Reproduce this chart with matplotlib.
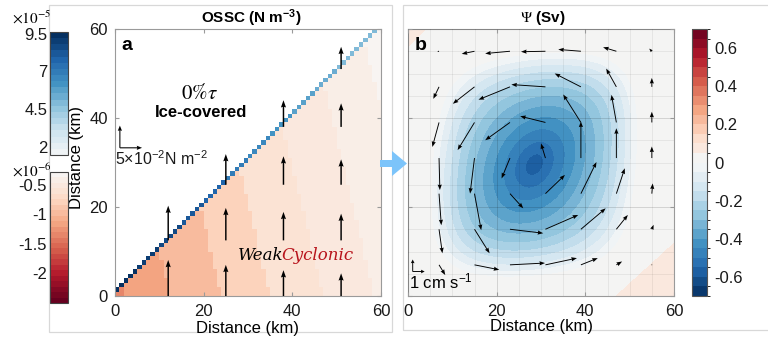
import numpy as np
import matplotlib
matplotlib.use('Agg')
import matplotlib.pyplot as plt
from matplotlib.colors import ListedColormap, Normalize, BoundaryNorm, to_rgba
from matplotlib.patches import Rectangle, FancyArrow
from matplotlib.ticker import MultipleLocator
import matplotlib.cm as cm

plt.rcParams['font.family'] = ['Liberation Sans', 'DejaVu Sans']
plt.rcParams['axes.unicode_minus'] = False
plt.rcParams['mathtext.fontset'] = 'custom'
plt.rcParams['mathtext.rm'] = 'Liberation Sans'
plt.rcParams['mathtext.it'] = 'Liberation Sans:italic'
plt.rcParams['mathtext.bf'] = 'Liberation Sans:bold'

# ---------------- panel a : OSSC on a 1 km grid ----------------
n_cells = 60
# red part (x1e-6): bands along x + slant*y
band_slant = 0.24
band_edges = [2, 12.5, 24, 35, 47, 58.5, 70]
band_values = [-1.35, -1.18, -0.93, -0.78, -0.64, -0.55, -0.42, -0.30]
# ice-edge cells (x1e-5), one value per 5 km along the edge
edge_values = [9.3, 8.8, 8.4, 8.0, 7.6, 7.1, 6.7, 6.3, 5.9, 5.5, 5.1, 4.8]

# surface stress arrows (length in 1e-2 N m-2), all northward
stress_x = [12, 25, 38, 51]
stress_y = [0, 12.5, 25, 38, 51]
stress_len = [[8.1, 7.8],
              [7.0, 7.3, 6.9],
              [5.8, 6.4, 6.4, 6.0],
              [5.1, 6.0, 5.7, 5.3, 5.0]]

# ---------------- panel b : streamfunction gyre ----------------
psi_amp = 0.62
psi_base = 0.02
psi_shape = 0.9
gyre_x, gyre_y = 28.5, 29.5
gyre_a, gyre_b = 34.0, 40.0     # inner (tilted ellipse) scales, km
gyre_rho = 0.28
gyre_c, gyre_d = 27.2, 28.65    # outer (rounded square) scales, km
gyre_sq = 5                     # squareness power of the outer rings
corner_br = 47.0    # x - 1.1 y beyond which psi > 0.05 (bottom-right)
corner_tl = 56.0    # y - x beyond which psi > 0.05 (top-left)
psi_levels = np.arange(-0.7, 0.7001, 0.05)

# surface velocity arrows (cm s-1), rows from north to south
vel_x = [7, 15, 23, 31, 39, 47, 55]
vel_y = [55, 47, 39, 31, 23, 15, 7]
vel_u = [[-0.15, -1.07, -2.07, -2.04, -1.89, -1.11, -0.22],
         [-0.48, -1.81, -2.63, -2.85, -2.19, -0.85, 0.00],
         [-0.56, -1.41, -2.07, -2.11, -1.48, -0.41, 0.00],
         [0.07, -0.37, -0.70, -0.37, 0.00, 0.00, 0.00],
         [0.19, 0.56, 1.11, 1.63, 1.30, 0.70, 0.07],
         [0.28, 1.26, 2.78, 2.74, 2.07, 0.96, 0.15],
         [0.52, 2.07, 2.93, 2.63, 1.41, 0.48, 0.00]]
vel_v = [[-0.04, -0.22, -0.19, -0.04, 0.15, 0.33, 0.22],
         [-1.00, -1.41, -1.07, 0.19, 1.11, 1.52, 0.74],
         [-2.04, -2.30, -1.48, 0.52, 2.33, 2.30, 0.89],
         [-2.67, -2.96, -1.70, 1.22, 3.04, 2.48, 0.96],
         [-2.63, -3.04, -1.22, 1.56, 2.63, 2.11, 0.85],
         [-2.00, -2.00, -0.33, 1.19, 1.74, 1.19, 0.37],
         [-0.85, -0.41, 0.15, 0.56, 0.56, 0.28, 0.00]]
km_per_cms = 2.7

# ---------------- figure ----------------
W, H = 768.0, 346.0
fig = plt.figure(figsize=(W / 100, H / 100), dpi=100)


def box(x0, y0, x1, y1):
    """pixel box (top-left origin) -> figure fraction rect"""
    return [x0 / W, 1 - y1 / H, (x1 - x0) / W, (y1 - y0) / H]


spine_col = '#9a9a9a'
txt_col = '#1a1a1a'

# panel frames
for (x0, y0, x1, y1) in [(49, 5, 392, 332), (403, 5, 780, 330)]:
    r = box(x0, y0, x1, y1)
    fig.add_artist(Rectangle((r[0], r[1]), r[2], r[3], fill=False,
                             ec='#d8d8d8', lw=0.9, transform=fig.transFigure, zorder=0))

ax_a = fig.add_axes(box(115, 29, 381, 296))
ax_b = fig.add_axes(box(408, 29, 674, 296))
cax_b = fig.add_axes(box(692, 29, 707, 296))
cax_up = fig.add_axes(box(50, 32, 68, 155))
cax_lo = fig.add_axes(box(50, 172, 68, 303))

# colormaps
red_cmap = ListedColormap(cm.RdBu(np.linspace(0.0, 0.49, 24)))
red_norm = Normalize(-2.5, -0.28)
blue_cmap = ListedColormap(cm.RdBu(np.linspace(0.52, 1.0, 20)))
blue_norm = Normalize(1.45, 9.6)

# ---- panel a ----
xe = np.arange(n_cells + 1)
xc = xe[:-1] + 0.5
X, Y = np.meshgrid(xc, xc)
I, J = np.meshgrid(np.arange(n_cells), np.arange(n_cells))
band_idx = np.searchsorted(band_edges, X + band_slant * Y)
red = np.array(band_values)[band_idx]
red = np.ma.masked_where(J > I, red)
edge = np.repeat(edge_values, 5)[I]
edge = np.ma.masked_where(J != I + 1, edge)
ax_a.pcolormesh(xe, xe, red, cmap=red_cmap, norm=red_norm, zorder=1)
ax_a.pcolormesh(xe, xe, edge, cmap=blue_cmap, norm=blue_norm, zorder=1)

sx, sy, sv = [], [], []
for xi, lens in zip(stress_x, stress_len):
    for yi, L in zip(stress_y, lens):
        sx.append(xi)
        sy.append(yi)
        sv.append(L)
ax_a.quiver(sx, sy, np.zeros(len(sv)), sv, angles='xy', scale_units='xy', scale=1,
            width=0.0055, headwidth=3.5, headlength=5, headaxislength=4.5,
            color='k', zorder=3, clip_on=False)
# key: 5e-2 N m-2
ax_a.quiver([1.1, 1.1], [33.3, 33.3], [5, 0], [0, 5], angles='xy', scale_units='xy',
            scale=1, width=0.004, headwidth=4, headlength=5, headaxislength=4.5,
            color='k', zorder=3)
ax_a.text(0.1, 30.8, r'5$\times$10$^{-2}$N m$^{-2}$', fontsize=11.5, va='center',
          ha='left', color=txt_col)
ax_a.text(1.5, 56.4, 'a', fontsize=14, fontweight='bold', va='center', ha='left')
ax_a.text(19.1, 45.7, r'$0\%\tau$', fontsize=15, math_fontfamily='stix',
          ha='center', va='center')
ax_a.text(19.3, 41.3, 'Ice-covered', fontsize=12, fontweight='bold',
          ha='center', va='center')
t_weak = ax_a.text(27.8, 9.0, 'Weak', fontsize=12, family='DejaVu Serif',
                   style='italic', ha='left', va='center', color='k')
ax_a.annotate('Cyclonic', xy=(1, 0), xycoords=t_weak, xytext=(-1.5, 0),
              textcoords='offset points', fontsize=12,
              family='DejaVu Serif', style='italic', ha='left', va='bottom',
              color='#b8141c')

ax_a.set_xlim(0, 60)
ax_a.set_ylim(0, 60)
ax_a.set_xticks([0, 20, 40, 60])
ax_a.set_yticks([0, 20, 40, 60])
ax_a.set_xlabel('Distance (km)', fontsize=12, labelpad=1)
ax_a.set_ylabel('Distance (km)', fontsize=12)
ax_a.yaxis.set_label_coords(-0.117, 0.52)

# ---- panel b ----
gx = np.linspace(0, 60, 241)
GX, GY = np.meshgrid(gx, gx)
dx = GX - gyre_x
dy = GY - gyre_y
u_ = dx / gyre_a
v_ = dy / gyre_b
Q = (u_ ** 2 + v_ ** 2 - 2 * gyre_rho * u_ * v_) / (1 - gyre_rho ** 2)
Qs = np.abs(dx / gyre_c) ** gyre_sq + np.abs(dy / gyre_d) ** gyre_sq
rr = np.sqrt(Q + Qs)
psi = psi_base - psi_amp * np.clip(1 - rr ** psi_shape, 0, None)
psi = psi + 0.01 * np.clip(GX - 1.1 * GY - (corner_br - 3), 0, 3.5)
psi = psi + 0.01 * np.clip(GY - GX - (corner_tl - 3), 0, 3.5)

n_bins = len(psi_levels) - 1
mids = 0.5 * (psi_levels[:-1] + psi_levels[1:])
psi_colors = cm.RdBu_r((mids + 0.7) / 1.4)
psi_colors[n_bins // 2] = to_rgba('#f4f4f3')
psi_cmap = ListedColormap(psi_colors)
psi_norm = BoundaryNorm(psi_levels, n_bins)

cs = ax_b.contourf(GX, GY, psi, levels=psi_levels, cmap=psi_cmap, norm=psi_norm,
                   zorder=0)

QX, QY = np.meshgrid(vel_x, vel_y)
ax_b.quiver(QX, QY, np.array(vel_u), np.array(vel_v), angles='xy', scale_units='xy',
            scale=1 / km_per_cms, width=0.0035, headwidth=4.5, headlength=6,
            headaxislength=5.5, color='k', zorder=3)
ax_b.quiver([1.06, 1.06], [5.5, 5.5], [1, 0], [0, 1], angles='xy', scale_units='xy',
            scale=1 / km_per_cms, width=0.0035, headwidth=4, headlength=4,
            headaxislength=3.6, color='k', zorder=3)
ax_b.text(0.3, 3.3, r'1 cm s$^{-1}$', fontsize=12, ha='left', va='center')
ax_b.text(1.5, 56.4, 'b', fontsize=14, fontweight='bold', va='center', ha='left')

ax_b.set_xlim(0, 60)
ax_b.set_ylim(0, 60)
ax_b.set_xticks([0, 20, 40, 60])
ax_b.set_yticks([0, 20, 40, 60])
ax_b.set_yticklabels([])
ax_b.xaxis.set_minor_locator(MultipleLocator(5))
ax_b.yaxis.set_minor_locator(MultipleLocator(5))
ax_b.set_axisbelow(False)
ax_b.grid(which='minor', color='k', alpha=0.07, lw=0.6)
ax_b.grid(which='major', color='k', alpha=0.16, lw=0.6)
ax_b.tick_params(which='minor', length=0)
ax_b.set_xlabel('Distance (km)', fontsize=12, labelpad=0)

for ax in (ax_a, ax_b):
    for s in ax.spines.values():
        s.set_color(spine_col)
        s.set_linewidth(0.8)
    ax.tick_params(which='major', direction='in', length=3, color=spine_col,
                   labelsize=12, labelcolor=txt_col, top=True, right=True)
    ax.tick_params(axis='x', pad=6)
    ax.tick_params(axis='y', pad=5)

# titles
fig.text(251 / W, 1 - 18 / H, r'OSSC (N m$^{\mathbf{-3}}$)', fontsize=11,
         fontweight='bold', ha='center', va='center')
fig.text(543 / W, 1 - 18 / H, r'$\Psi$ (Sv)', fontsize=11, fontweight='bold',
         math_fontfamily='stix', ha='center', va='center')

# colorbar panel b
cb_b = fig.colorbar(cs, cax=cax_b)
cb_b.set_ticks([-0.6, -0.4, -0.2, 0, 0.2, 0.4, 0.6])
cb_b.set_ticklabels(['-0.6', '-0.4', '-0.2', '0', '0.2', '0.4', '0.6'])
cb_b.ax.tick_params(labelsize=12, length=0, pad=5, labelcolor=txt_col)
cb_b.outline.set_edgecolor('#555555')
cb_b.outline.set_linewidth(0.8)

# colorbars panel a (left)
cb_up = fig.colorbar(cm.ScalarMappable(norm=blue_norm, cmap=blue_cmap), cax=cax_up)
cb_up.set_ticks([2, 4.5, 7, 9.5])
cb_up.set_ticklabels(['2', '4.5', '7', '9.5'])
cb_lo = fig.colorbar(cm.ScalarMappable(norm=red_norm, cmap=red_cmap), cax=cax_lo)
cb_lo.set_ticks([-2, -1.5, -1, -0.5])
cb_lo.set_ticklabels(['-2', '-1.5', '-1', '-0.5'])
for cb in (cb_up, cb_lo):
    cb.ax.yaxis.set_ticks_position('left')
    cb.ax.yaxis.set_label_position('left')
    cb.ax.tick_params(labelsize=12, length=0, pad=2, labelcolor=txt_col)
    cb.outline.set_edgecolor('#444444')
    cb.outline.set_linewidth(0.8)
fig.text(12 / W, 1 - 18 / H, r'$\times10^{-5}$', fontsize=11, math_fontfamily='stix',
         ha='left', va='center')
fig.text(12 / W, 1 - 171 / H, r'$\times10^{-6}$', fontsize=11, math_fontfamily='stix',
         ha='left', va='center')

# arrow between panels
fig.add_artist(FancyArrow(380 / W, 1 - 163.5 / H, 27 / W, 0, width=7 / H,
                          head_width=25 / H, head_length=15 / W,
                          length_includes_head=True, color='#7cc4fa', lw=0,
                          transform=fig.transFigure, zorder=5))

fig.savefig('out.png', dpi=100)
